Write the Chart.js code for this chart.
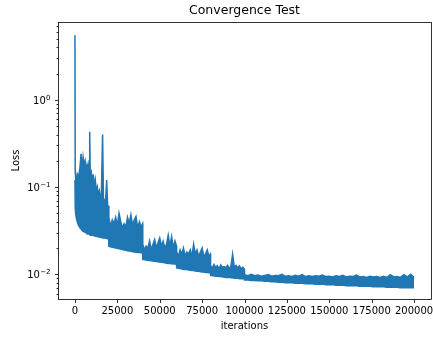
<!DOCTYPE html>
<html><head><meta charset="utf-8">
<script src="https://cdn.jsdelivr.net/npm/chart.js@4/dist/chart.umd.min.js"></script>
<style>html,body{margin:0;padding:0;background:#fff}#c{display:block}</style>
</head><body>
<canvas id="c" width="433" height="337"></canvas>
<script>
// iteration positions of envelope samples
const iterations = [
  0,150,400,800,1500,2200,3000,3600,4200,4800,5400,6000,6600,7200,7800,8400,8700,9000,9600,10200,10800,11400,12000,12600,13200,13800,14400,15000,15600,16300,16800,17400,18000,18700,19300,19900,
  20000,21000,22000,23000,24000,25000,26000,27000,28000,29000,30000,31000,32000,33000,34000,35000,36000,37000,38000,39000,39900,
  40000,41000,42000,43000,44000,45000,46000,47000,48000,49000,50000,51000,52000,53000,54000,55000,56000,57000,58000,59000,59900,
  60000,61000,62000,63000,64000,65000,66000,67000,68000,69000,70000,71000,72000,73000,74000,75000,76000,77000,78000,79000,79900,
  80000,81000,82000,83000,84000,85000,86000,87000,88000,89000,90000,91000,92000,93000,94000,95000,96000,97000,98000,99000,99900,
  100000,102000,104000,106000,108000,110000,112000,114000,116000,118000,120000,122000,124000,126000,128000,130000,132000,134000,136000,138000,
  140000,142000,144000,146000,148000,150000,152000,154000,156000,158000,160000,162000,164000,166000,168000,170000,172000,174000,176000,178000,
  180000,182000,184000,186000,188000,190000,192000,194000,196000,198000,200000
];
// upper envelope of the oscillating loss
const lossUpper = [
  5.5,0.15,0.13,0.12,0.14,0.13,0.17,0.24,0.16,0.22,0.18,0.2,0.15,0.18,0.16,0.2,0.43,0.14,0.15,0.11,0.14,0.1,0.12,0.09,0.1,0.08,0.09,0.075,0.085,0.40,0.075,0.07,0.065,0.12,0.06,0.06,
  0.045,0.035,0.042,0.038,0.045,0.036,0.05,0.04,0.034,0.038,0.035,0.045,0.038,0.048,0.036,0.042,0.046,0.034,0.04,0.035,0.038,
  0.022,0.019,0.021,0.02,0.024,0.019,0.022,0.025,0.02,0.023,0.026,0.021,0.024,0.02,0.022,0.028,0.021,0.027,0.02,0.024,0.021,
  0.018,0.016,0.019,0.017,0.02,0.016,0.018,0.017,0.019,0.016,0.022,0.017,0.019,0.016,0.018,0.02,0.016,0.017,0.019,0.016,0.017,
  0.0125,0.0118,0.013,0.012,0.0125,0.0115,0.0128,0.012,0.0122,0.0118,0.0126,0.0117,0.0124,0.017,0.012,0.0126,0.0118,0.0125,0.0116,0.012,0.0115,
  0.0099,0.0096,0.0100,0.0096,0.0098,0.0095,0.0097,0.0099,0.0095,0.0097,0.0096,0.0100,0.0095,0.0096,0.0094,0.0097,0.0095,0.0099,0.0094,0.0096,
  0.0094,0.0096,0.0095,0.0098,0.0094,0.0095,0.0093,0.0096,0.0094,0.0097,0.0093,0.0095,0.0094,0.0098,0.0093,0.0094,0.0092,0.0095,0.0093,0.0094,
  0.0092,0.0095,0.0092,0.0099,0.0093,0.0094,0.0092,0.0099,0.0093,0.0100,0.0092
];
// lower envelope of the oscillating loss
const lossLower = [
  0.12,0.06,0.05,0.044,0.039,0.036,0.034,0.033,0.032,0.031,0.031,0.030,0.030,0.029,0.029,0.029,0.029,0.028,0.028,0.028,0.028,0.0275,0.0275,0.027,0.027,0.027,0.0265,0.0265,0.0265,0.026,0.026,0.026,0.0258,0.0257,0.0255,0.0255,
  0.021,0.0207,0.0204,0.0202,0.02,0.0198,0.0196,0.0194,0.0192,0.019,0.0188,0.0186,0.0184,0.0183,0.0181,0.018,0.0179,0.0178,0.0177,0.0176,0.0175,
  0.0148,0.0147,0.0146,0.0145,0.0144,0.0143,0.0142,0.0141,0.014,0.0139,0.0138,0.0137,0.0136,0.0135,0.0134,0.0133,0.0133,0.0132,0.0131,0.0131,0.013,
  0.0118,0.0117,0.0116,0.0115,0.0114,0.0113,0.0113,0.0112,0.0111,0.011,0.011,0.0109,0.0108,0.0108,0.0107,0.0106,0.0106,0.0105,0.0105,0.0104,0.0104,
  0.0097,0.0096,0.0096,0.0095,0.0095,0.0094,0.0094,0.0093,0.0093,0.0092,0.0092,0.0092,0.0091,0.0091,0.009,0.009,0.009,0.0089,0.0089,0.0089,0.0088,
  0.0086,0.0086,0.0085,0.0085,0.0084,0.0084,0.0083,0.0083,0.0082,0.0082,0.0081,0.0081,0.0080,0.0080,0.0080,0.0079,0.0079,0.0079,0.0078,0.0078,
  0.0078,0.0077,0.0077,0.0077,0.0076,0.0076,0.0076,0.0075,0.0075,0.0075,0.0074,0.0074,0.0074,0.0074,0.0073,0.0073,0.0073,0.0073,0.0072,0.0072,
  0.0072,0.0072,0.0071,0.0071,0.0071,0.0071,0.0070,0.0070,0.0070,0.0070,0.0070
];
const xTicks = [0,25000,50000,75000,100000,125000,150000,175000,200000];
const xTickLabels = ['0','25000','50000','75000','100000','125000','150000','175000','200000'];
const yMajorTicks = [0.01,0.1,1];
const yTickBase = ['10','10','10'];
const yTickExp = ['\u22122','\u22121','0'];
const yMinorTicks = [0.006,0.007,0.008,0.009,0.02,0.03,0.04,0.05,0.06,0.07,0.08,0.09,0.2,0.3,0.4,0.5,0.6,0.7,0.8,0.9,2,3,4,5,6,7];

const FONT = 'DejaVu Sans';
const C = '#1f77b4';

const frame = {
  id: 'frame',
  afterDraw(chart) {
    const {ctx, chartArea: a, scales: {x, y}} = chart;
    ctx.save();
    ctx.strokeStyle = '#000';
    ctx.lineWidth = 0.8;
    ctx.strokeRect(Math.round(a.left) + 0.5, Math.round(a.top) + 0.5, Math.round(a.right - a.left), Math.round(a.bottom - a.top));
    ctx.beginPath();
    const b = Math.round(a.bottom) + 0.5, l = Math.round(a.left) + 0.5;
    xTicks.forEach(v => { const px = Math.round(x.getPixelForValue(v)) + 0.5; ctx.moveTo(px, b); ctx.lineTo(px, b + 3.5); });
    yMajorTicks.forEach(v => { const py = Math.round(y.getPixelForValue(v)) + 0.5; ctx.moveTo(l, py); ctx.lineTo(l - 3.5, py); });
    yMinorTicks.forEach(v => { const py = Math.round(y.getPixelForValue(v)) + 0.5; ctx.moveTo(l, py); ctx.lineTo(l - 2, py); });
    ctx.stroke();
    ctx.fillStyle = '#000';
    // y tick labels with superscript exponents
    ctx.textBaseline = 'alphabetic';
    yMajorTicks.forEach((v, i) => {
      const py = y.getPixelForValue(v);
      const right = a.left - 7.5;
      ctx.font = '7px "' + FONT + '"';
      ctx.textAlign = 'right';
      const ew = ctx.measureText(yTickExp[i]).width;
      ctx.fillText(yTickExp[i], right, py - 0.3);
      ctx.font = '10px "' + FONT + '"';
      ctx.fillText(yTickBase[i], right - ew - 0.3, py + 4.2);
    });
    ctx.font = '12.5px "' + FONT + '"';
    ctx.textAlign = 'center';
    ctx.textBaseline = 'middle';
    ctx.fillText('Convergence Test', (a.left + a.right) / 2, 11);
    ctx.restore();
  }
};

new Chart(document.getElementById('c'), {
  type: 'line',
  data: {
    datasets: [
      { data: iterations.map((v, i) => ({x: v, y: lossUpper[i]})), borderColor: C, backgroundColor: C, borderWidth: 1.5, pointRadius: 0, tension: 0, fill: '+1' },
      { data: iterations.map((v, i) => ({x: v, y: lossLower[i]})), borderColor: C, backgroundColor: C, borderWidth: 1.5, pointRadius: 0, tension: 0, fill: false }
    ]
  },
  options: {
    responsive: false,
    animation: false,
    devicePixelRatio: 1,
    layout: { padding: { top: 22, right: 2, left: 0, bottom: 0 } },
    plugins: { legend: { display: false }, tooltip: { enabled: false }, title: { display: false } },
    scales: {
      x: {
        type: 'linear', min: -10000, max: 210000,
        grid: { display: false, drawTicks: false, tickLength: 0 }, border: { display: false },
        afterBuildTicks: s => { s.ticks = xTicks.map(v => ({value: v})); },
        ticks: { callback: (v) => xTickLabels[xTicks.indexOf(v)], color: '#000', font: { family: FONT, size: 10 }, padding: 6.2, maxRotation: 0, autoSkip: false },
        title: { display: true, text: 'iterations', color: '#000', font: { family: FONT, size: 10 }, padding: { top: 0, bottom: 5 } },
        afterFit: s => { s.height = 38; s.paddingLeft = 0; s.paddingRight = 0; }
      },
      y: {
        type: 'logarithmic', min: 0.0052, max: 7.8,
        grid: { display: false, drawTicks: false, tickLength: 0 }, border: { display: false },
        afterBuildTicks: s => { s.ticks = yMajorTicks.map(v => ({value: v})); },
        ticks: { display: false },
        title: { display: true, text: 'Loss', color: '#000', font: { family: FONT, size: 10 }, padding: { top: 10, bottom: 0 } },
        afterFit: s => { s.width = 58; s.paddingTop = 0; s.paddingBottom = 0; }
      }
    }
  },
  plugins: [frame]
});
</script>
</body></html>
